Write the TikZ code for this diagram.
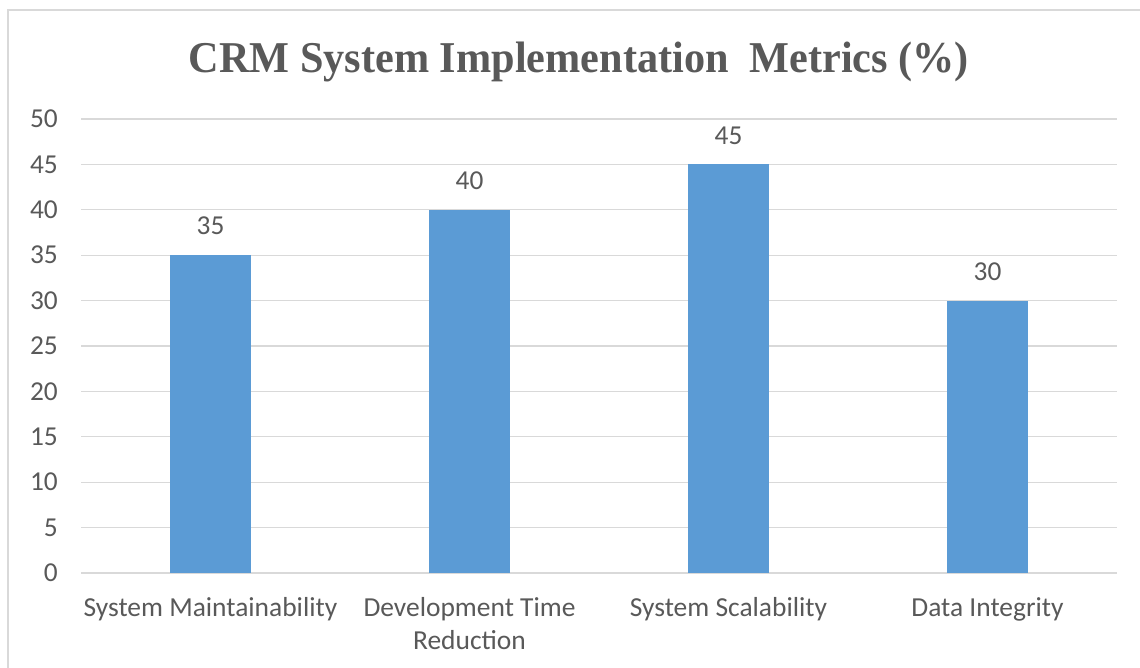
\documentclass[tikz,border=0pt]{standalone}
\usepackage{fontspec}
\setmainfont{Carlito}
\newfontfamily\titlefont{Liberation Serif}
\definecolor{txt}{HTML}{595959}
\definecolor{grid}{HTML}{D9D9D9}
\definecolor{bar}{HTML}{5B9BD5}
\definecolor{frame}{HTML}{D9D9D9}
\begin{document}
\begin{tikzpicture}[x=0.75pt,y=-0.75pt,
  ticklab/.style={anchor=east,text=txt,font=\fontsize{20.5}{24}\selectfont,inner sep=0pt},
  catlab/.style={anchor=center,text=txt,font=\fontsize{20.6}{25}\selectfont,align=center,inner sep=0pt},
  vallab/.style={anchor=center,text=txt,font=\fontsize{20.5}{24}\selectfont,inner sep=0pt},
  barbox/.style={fill=bar,draw=none},
  gridline/.style={draw=grid,line width=0.9pt}]
\useasboundingbox (0,0) rectangle (1140,668);
\fill[white] (0,0) rectangle (1140,668);
\draw[frame,line width=1.5pt] (8,668) -- (8,10) -- (1140,10);
% title
\node[text=txt,font=\titlefont\bfseries\fontsize{33}{40}\selectfont,inner sep=0pt] (title) at (579,62) {\scalebox{0.96}[1]{CRM System Implementation\ \ Metrics (\%)}};
% grid and ticks
\foreach \v in {0,5,...,50}{
  \pgfmathsetmacro{\yy}{573-\v*9.08}
  \draw[gridline] (81,\yy) -- (1117,\yy);
  \node[ticklab] (t\v) at (58,\yy) {\v};
}
% bars
\foreach \i/\cx/\val in {1/210.5/35,2/469.5/40,3/728.5/45,4/987.5/30}{
  \pgfmathsetmacro{\ytop}{573-\val*9.08}
  \fill[barbox] (\cx-40.5,573) rectangle (\cx+40.5,\ytop);
  \node[vallab] (v\i) at (\cx,\ytop-29) {\val};
}
% category labels
\node[catlab] (c1) at (210.5,609) {System Maintainability};
\node[catlab,anchor=north] (c2) at (469.5,597) {Development Time\\Reduction};
\node[catlab] (c3) at (728.5,609) {System Scalability};
\node[catlab] (c4) at (987.5,609) {Data Integrity};
\end{tikzpicture}
\end{document}
